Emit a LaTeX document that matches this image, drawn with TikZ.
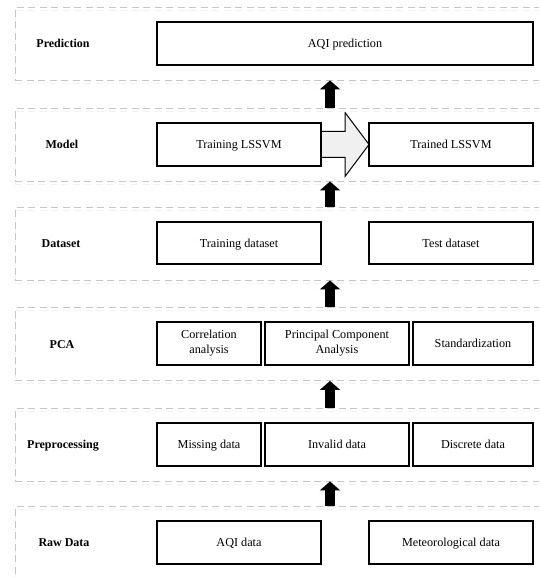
\documentclass[tikz,border=0pt]{standalone}
\usepackage{fontspec}
\setmainfont{Liberation Serif}
\usetikzlibrary{positioning,arrows,calc,fit,arrows.meta,backgrounds}
\tikzset{
	flow/.style={x=1pt,y=-1pt,font=\fontsize{12.2}{15}\selectfont},
	stage/.style={draw=gray!45,line width=0.9pt,dash pattern=on 7pt off 4.5pt,
		minimum width=560pt,minimum height=73pt,inner sep=0pt,anchor=west,
		preaction={draw=blue!6,line width=0.9pt,dash pattern=on 7pt off 4.5pt,
			transform canvas={yshift=-3pt}}},
	stagename/.style={font=\fontsize{12}{15}\selectfont\bfseries,
		text height=9.5pt,text depth=1pt},
	box/.style={draw,line width=1.2pt,fill=white,minimum height=43pt,inner sep=2pt,
		outer sep=0pt,align=center},
	line/.style={box,text height=9.5pt,text depth=1pt},
	half/.style={line,minimum width=164pt},
	wide/.style={line,minimum width=376pt},
	up/.style={line width=10pt,-{Triangle[width=20pt,length=9pt]}},
	bigarrow/.style={draw,line width=1pt,fill=gray!12,line join=miter}
}

\begin{document}
\begin{tikzpicture}[flow]
		
		\useasboundingbox (0,0) rectangle (539,577);
		\clip (0,0) rectangle (539,577);
		
		% stages
		\node[stage] (spred) at (15,43.5) {};
		\node[stage] (smodel) at (15,144.5) {};
		\node[stage] (sdata) at (15,243.5) {};
		\node[stage] (spca) at (15,344) {};
		\node[stage] (sprep) at (15,444.5) {};
		\node[stage] (sraw) at (15,542.5) {};
		
		\node[stagename] (lpred) at (63,43.5) {Prediction};
		\node[stagename] (lmodel) at (62,144.5) {Model};
		\node[stagename] (ldata) at (61,243) {Dataset};
		\node[stagename] (lpca) at (62,344) {PCA};
		\node[stagename] (lprep) at (63,444.5) {Preprocessing};
		\node[stagename] (lraw) at (64,542.5) {Raw Data};
		
		% boxes
		\node[wide] (aqipred) at (345,43.5) {AQI prediction};
		
		\node[half] (train) at (239,144.5) {Training LSSVM};
		\node[half] (trained) [right=48pt of train] {Trained LSSVM};
		
		\node[half,minimum height=42pt] (trainset) at (239,243) {Training dataset};
		\node[half,minimum height=42pt] (testset) [right=48pt of trainset] {Test dataset};
		
		\node[box,minimum width=104pt] (corr) at (209,343.5) {Correlation\\analysis};
		\node[box,minimum width=144pt] (pcabox) [right=4pt of corr] {Principal Component\\Analysis};
		\node[line,minimum width=120pt] (std) [right=4pt of pcabox] {Standardization};
		
		\node[line,minimum width=104pt] (miss) at (209,444.5) {Missing data};
		\node[line,minimum width=144pt] (inval) [right=4pt of miss] {Invalid data};
		\node[line,minimum width=120pt] (discr) [right=4pt of inval] {Discrete data};
		
		\node[half] (aqidata) at (239,542.5) {AQI data};
		\node[half] (meteo) [right=48pt of aqidata] {Meteorological data};
		
		% training -> trained
		\begin{scope}[on background layer]
			\draw[bigarrow] ($(train.east)+(0,-13)$) -- ($(train.east)+(24,-13)$)
				-- ($(train.east)+(24,-32)$) -- (trained.west) -- ($(train.east)+(24,32)$)
				-- ($(train.east)+(24,13)$) -- ($(train.east)+(0,13)$) -- cycle;
		\end{scope}
		
		% stage to stage
		\coordinate (axis) at (330,0);
		\draw[up] (sraw.north -| axis) -- (sprep.south -| axis);
		\draw[up] (sprep.north -| axis) -- (spca.south -| axis);
		\draw[up] (spca.north -| axis) -- (sdata.south -| axis);
		\draw[up] (sdata.north -| axis) -- (smodel.south -| axis);
		\draw[up] (smodel.north -| axis) -- (spred.south -| axis);
		
		\end{tikzpicture}
\end{document}
